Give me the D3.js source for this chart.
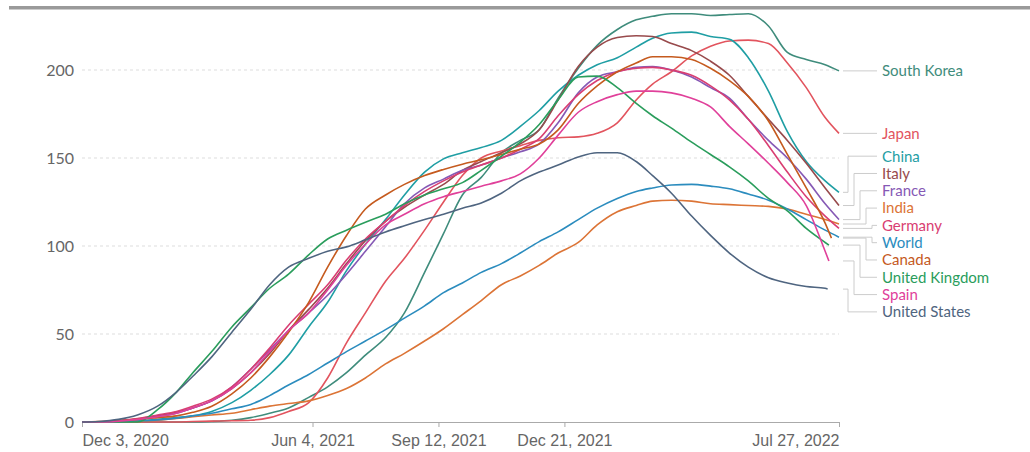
<!DOCTYPE html>
<html>
<head>
<meta charset="utf-8">
<script src="https://cdn.jsdelivr.net/npm/d3@7"></script>
<style>
  body { margin: 0; background: #fff; }
  svg { font-family: Lato, "Open Sans", sans-serif; }
  .grid line { stroke: #ddd; stroke-dasharray: 3,3; }
  .xaxis .domain { stroke: #aaa; }
  .xaxis .tick line { stroke: #aaa; }
  .xaxis .tick text { fill: #666; font-size: 16px; }
  .ylab { fill: #666; font-size: 16px; }
  .connector { fill: none; stroke: #ccc; stroke-width: 1; }
  .series { fill: none; stroke-width: 1.6; }
</style>
</head>
<body>
<div id="chart"></div>
<script>

// sample dates (1st and 16th of each month)
var dates = ["2020-12-03", "2020-12-16", "2021-01-01", "2021-01-16", "2021-02-01", "2021-02-16",
    "2021-03-01", "2021-03-16", "2021-04-01", "2021-04-16", "2021-05-01", "2021-05-16",
    "2021-06-01", "2021-06-16", "2021-07-01", "2021-07-16", "2021-08-01", "2021-08-16",
    "2021-09-01", "2021-09-16", "2021-10-01", "2021-10-16", "2021-11-01", "2021-11-16",
    "2021-12-01", "2021-12-16", "2022-01-01", "2022-01-16", "2022-02-01", "2022-02-16",
    "2022-03-01", "2022-03-16", "2022-04-01", "2022-04-16", "2022-05-01", "2022-05-16",
    "2022-06-01", "2022-06-16", "2022-07-01", "2022-07-16", "2022-07-27"];

var names = ["South Korea", "Japan", "China", "Italy", "France", "India",
    "Germany", "World", "Canada", "United Kingdom", "Spain", "United States"];

// last point of some countries is a few days before Jul 27
var endDates = ["2022-07-27", "2022-07-27", "2022-07-27", "2022-07-27", "2022-07-27", "2022-07-27",
    "2022-07-27", "2022-07-27", "2022-07-21", "2022-07-19", "2022-07-19", "2022-07-18"];

var southKorea = [0, 0, 0, 0, 0, 0, 0, 0.3, 1, 2.5, 5, 8, 14, 20, 28, 38, 48, 62, 85, 107,
    129, 139, 153, 160, 166, 184, 201, 214, 223, 228.5, 230.5, 232, 232, 231, 231.5, 232, 225, 210, 206, 203, 199.5];
var japan = [0, 0, 0, 0, 0, 0, 0.3, 0.5, 0.7, 1, 2.5, 6, 11, 25, 45, 62, 80, 93, 109, 125,
    140, 150, 154, 157, 160, 161.5, 162, 164, 170, 183, 192, 199, 208, 213.5, 216.5, 217, 215, 204, 190, 173, 164];
var china = [0, 0, 0, 0.5, 1.5, 2.5, 3.5, 6, 11, 18, 27, 38, 54, 68, 86, 101, 115, 129, 142, 149.5,
    153, 156, 160, 168, 177, 188, 197, 203, 207, 213, 218, 221, 221.5, 219, 217.5, 207, 188, 165, 148, 137, 130.5];
var italy = [0, 0, 0.5, 1.8, 3.5, 5.5, 8, 12, 19, 28, 39, 52, 64, 76, 90, 103, 114, 122, 129, 135,
    143, 148, 153, 158, 166, 183, 202, 213, 218.5, 219.5, 219, 215, 211, 205, 197, 185, 172, 160, 147, 133, 123];
var france = [0, 0, 0.5, 1.5, 3, 5, 8, 12, 20, 30, 41, 52, 62, 72, 84, 97, 111, 124, 133, 138,
    143, 146, 150, 153.5, 158, 170, 187, 196, 199, 201.5, 202, 200, 196, 190, 184, 172, 160, 150, 138, 124, 115];
var india = [0, 0, 0, 0.2, 1, 2, 3, 4, 5, 7, 9, 10.5, 12, 15, 19, 25, 33, 39, 46, 53,
    61, 69, 78, 83, 89, 96, 102, 112, 119.5, 123, 125.5, 126, 125.5, 124, 123.5, 123, 122.5, 121, 118, 115, 112.5];
var germany = [0, 0, 0.8, 2, 4, 6, 9, 13, 20, 30, 42, 55, 67, 78, 92, 104, 114, 123, 131, 137,
    142, 146, 150, 155, 161, 174, 186, 194, 199, 201, 201.5, 200, 197, 191, 183, 172, 157, 142, 128, 117, 110];
var world = [0, 0, 0.2, 0.6, 1.2, 2.2, 3.5, 5, 7.5, 10, 15, 21, 27, 33.5, 40, 46, 52.5, 59, 66, 73.5,
    79, 85, 90, 96, 102.5, 108, 115, 121.5, 127, 131, 133, 134.7, 135, 134, 132.5, 129.5, 126, 121, 115, 109, 105];
var canada = [0, 0.2, 0.8, 1.5, 2.5, 3.5, 5.5, 9, 16, 25, 37, 51, 68, 88, 106, 121, 129, 135, 140, 143.5,
    146.5, 149, 152, 155, 158, 166, 181, 191, 199, 204, 207.5, 207.5, 206, 201, 194, 185, 171, 152, 133, 113, 104.5];
var unitedKingdom = [0, 0, 0, 0, 7, 17, 28, 40, 54, 65, 76, 84, 95, 104, 109, 113.5, 118, 124, 129, 132.5,
    136, 143, 151, 159, 169, 183, 196, 196.5, 190, 181, 174, 167, 159, 152, 145, 137, 127, 120, 110, 102, 100.5];
var spain = [0, 0, 0.5, 1.5, 3, 5, 8, 12, 19, 28, 40, 52, 62, 75, 89, 101, 112, 118, 124, 128,
    131, 134, 137, 141, 150, 163, 176, 182, 186, 188, 188, 187, 184, 179, 168, 158, 147, 136, 123, 97, 91.5];
var unitedStates = [0, 0.3, 1.5, 4, 9, 17, 26, 37, 51, 64, 78, 88, 93, 97, 99.5, 103.5, 108, 111.5, 115, 118,
    121.5, 124.5, 130, 137, 142, 146, 150.6, 153, 153, 148, 140, 130, 117, 106, 96, 88, 82, 79, 77, 76, 75.5];

var allValues = [southKorea, japan, china, italy, france, india,
    germany, world, canada, unitedKingdom, spain, unitedStates];

var colors = ["#3f8c7c", "#e2545e", "#1f9ea4", "#984a4c", "#8659b5", "#dc7436",
    "#d93e72", "#2b8cbe", "#c55a1e", "#2a9d5c", "#e0409a", "#4f6580"];

var yTicks = [0, 50, 100, 150, 200];
var xTicks = ["2020-12-03", "2021-06-04", "2021-09-12", "2021-12-21", "2022-07-27"];


var width = 1030, height = 452;
var parse = d3.timeParse("%Y-%m-%d");

var svg = d3.select("#chart").append("svg")
    .attr("width", width)
    .attr("height", height);

// grey rule on top
svg.append("rect")
    .attr("x", 9).attr("y", 6)
    .attr("width", width - 9).attr("height", 3.5)
    .attr("fill", "#9a9a9a");

var x = d3.scaleTime()
    .domain([parse(dates[0]), parse(dates[dates.length - 1])])
    .range([82, 839]);

var y = d3.scaleLinear()
    .domain([0, 200])
    .range([422, 70]);

// dashed grid
svg.append("g").attr("class", "grid")
    .selectAll("line")
    .data(yTicks.filter(function(d) { return d > 0; }))
    .enter().append("line")
    .attr("x1", 82).attr("x2", 839)
    .attr("y1", function(d) { return y(d); })
    .attr("y2", function(d) { return y(d); });

svg.selectAll(".ylab")
    .data(yTicks)
    .enter().append("text")
    .attr("class", "ylab")
    .attr("x", 74)
    .attr("y", function(d) { return y(d); })
    .attr("dy", "0.36em")
    .attr("text-anchor", "end")
    .text(function(d) { return d; });

var xaxis = d3.axisBottom(x)
    .tickValues(xTicks.map(parse))
    .tickSize(5)
    .tickSizeOuter(0)
    .tickPadding(8)
    .tickFormat(d3.timeFormat("%b %-d, %Y"));

svg.append("g")
    .attr("class", "xaxis")
    .attr("transform", "translate(0," + y(0) + ")")
    .call(xaxis);

svg.selectAll(".xaxis .tick text")
    .attr("text-anchor", function(d, i) {
        return i == 0 ? "start" : (i == xTicks.length - 1 ? "end" : "middle");
    });

var series = names.map(function(name, i) {
    var pts = allValues[i].map(function(v, j) {
        var d = (j == dates.length - 1) ? endDates[i] : dates[j];
        return { date: parse(d), value: v };
    });
    return { name: name, color: colors[i], points: pts };
});

var line = d3.line()
    .x(function(d) { return x(d.date); })
    .y(function(d) { return y(d.value); })
    .curve(d3.curveMonotoneX);

svg.append("g").selectAll("path")
    .data(series)
    .enter().append("path")
    .attr("class", "series")
    .attr("stroke", function(d) { return d.color; })
    .attr("d", function(d) { return line(d.points); });

// labels: start at the line end, push apart when they overlap
var labelH = 17.3;
var labels = series.map(function(s) {
    var last = s.points[s.points.length - 1];
    return { name: s.name, color: s.color, target: y(last.value) };
}).sort(function(a, b) { return a.target - b.target; });

var blocks = labels.map(function(l) { return [l]; });
function place(b) {
    var mean = d3.mean(b, function(l) { return l.target; });
    var top = mean - (b.length - 1) * labelH / 2;
    b.forEach(function(l, i) { l.y = top + i * labelH; });
}
blocks.forEach(place);
var merged = true;
while (merged) {
    merged = false;
    for (var i = 0; i < blocks.length - 1; i++) {
        var a = blocks[i], b = blocks[i + 1];
        if (a[a.length - 1].y + labelH > b[0].y) {
            blocks.splice(i, 2, a.concat(b));
            place(blocks[i]);
            merged = true;
            break;
        }
    }
}

var startX = x.range()[1] + 4, endX = 877, textX = 882;
var above = labels.filter(function(l) { return l.y < l.target - 0.2; })
    .sort(function(a, b) { return a.y - b.y; });
var below = labels.filter(function(l) { return l.y >= l.target - 0.2; })
    .sort(function(a, b) { return b.y - a.y; });
above.forEach(function(l, k) { l.step = 848 + 6 * k; });
below.forEach(function(l, k) { l.step = 848 + 6 * k; });

svg.append("g").selectAll("path")
    .data(labels)
    .enter().append("path")
    .attr("class", "connector")
    .attr("d", function(l) {
        if (Math.abs(l.y - l.target) < 2.5) {
            return "M" + startX + "," + l.y + "H" + endX;
        }
        return "M" + startX + "," + l.target + "H" + l.step + "V" + l.y + "H" + endX;
    });

svg.append("g").selectAll("text")
    .data(labels)
    .enter().append("text")
    .attr("x", textX)
    .attr("y", function(l) { return l.y; })
    .attr("dy", "0.36em")
    .attr("font-size", "15px")
    .attr("fill", function(l) { return l.color; })
    .text(function(l) { return l.name; });

</script>
</body>
</html>
